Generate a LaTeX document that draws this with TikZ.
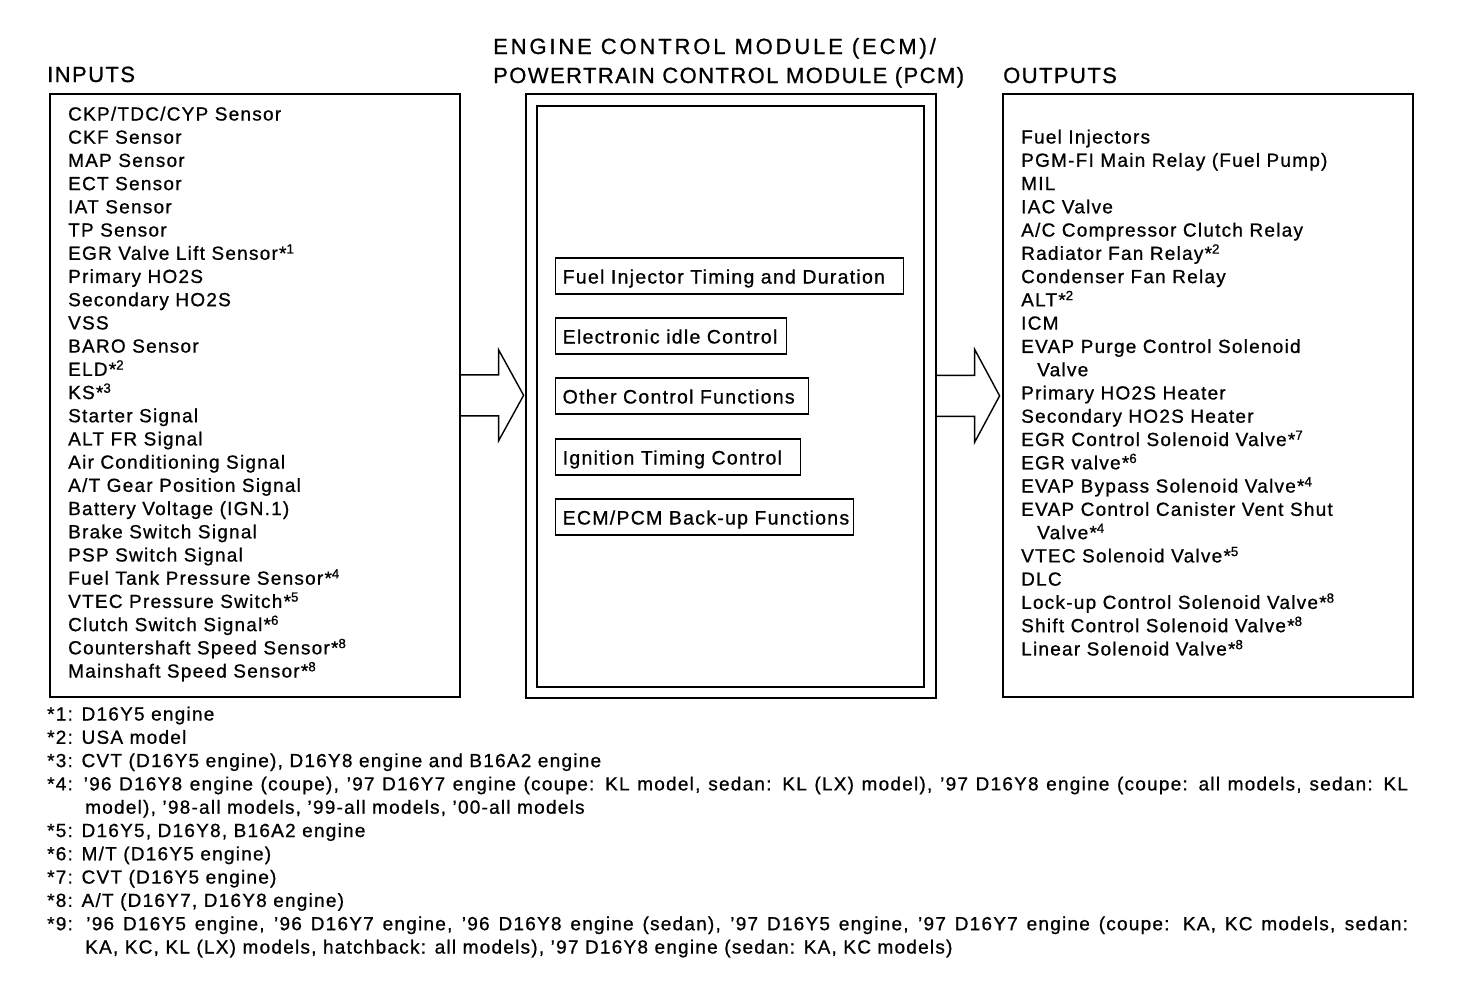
\documentclass[tikz,border=0pt]{standalone}
\usepackage{fontspec}
\setmainfont{Liberation Sans}[LetterSpace=6.5, FakeBold=0.8]
\newcommand{\starnote}[1]{*\textsuperscript{#1}}

\tikzset{
  box/.style={draw, line width=1.6pt, inner sep=0pt, anchor=north west},
  item/.style={anchor=base west, inner sep=0pt, font=\fontsize{19}{23}\selectfont},
  head/.style={anchor=base west, inner sep=0pt, font=\fontsize{22}{26}\selectfont},
  func/.style={draw, line width=1.4pt, anchor=west, align=left, inner xsep=7pt,
    text height=17pt, text depth=2pt, minimum height=36pt,
    font=\fontsize{19.5}{23}\selectfont},
  block/.style={line width=1.4pt, line join=miter}
}

\begin{document}
\begin{tikzpicture}[x=1pt,y=-1pt]
\useasboundingbox (0,0) rectangle (1472,980);

% titles
\node[head] (t-in) at (47,82) {INPUTS};
\node[head] (t-ecm) at (493,54) {\addfontfeature{LetterSpace=13}ENGINE CONTROL MODULE (ECM)/};
\node[head] (t-pcm) at (493,83) {POWERTRAIN CONTROL MODULE (PCM)};
\node[head] (t-out) at (1003,83) {OUTPUTS};

% boxes
\node[box, minimum width=410pt, minimum height=603pt] (inputs) at (49,93) {};
\node[box, minimum width=410pt, minimum height=604pt] (ecm) at (525,93) {};
\node[box, minimum width=387pt, minimum height=581pt] (ecmin) at (536,105) {};
\node[box, minimum width=410pt, minimum height=603pt] (outputs) at (1002,93) {};

% block arrows
\draw[block] (inputs.east) ++(0,-20.5) -- ++(38,0) -- ++(0,-25) -- ++(25,45.5)
  -- ++(-25,45.5) -- ++(0,-25) -- ++(-38,0);
\draw[block] (ecm.east) ++(0,-20.5) -- ++(38,0) -- ++(0,-26) -- ++(25,46.5)
  -- ++(-25,46.5) -- ++(0,-26) -- ++(-38,0);

% inputs
\foreach \txt [count=\i] in {{CKP/TDC/CYP Sensor}, CKF Sensor, MAP Sensor, ECT Sensor,
  IAT Sensor, TP Sensor, EGR Valve Lift Sensor\starnote{1}, Primary HO2S,
  Secondary HO2S, VSS, BARO Sensor, ELD\starnote{2}, KS\starnote{3},
  Starter Signal, ALT FR Signal, Air Conditioning Signal,
  {A/T Gear Position Signal}, Battery Voltage (IGN.1), Brake Switch Signal,
  PSP Switch Signal, Fuel Tank Pressure Sensor\starnote{4},
  VTEC Pressure Switch\starnote{5}, Clutch Switch Signal\starnote{6},
  Countershaft Speed Sensor\starnote{8}, Mainshaft Speed Sensor\starnote{8}}
  \node[item] (in-\i) at (68,{120.5+23.21*(\i-1)}) {\txt};

% control functions
\node[func, text width=334pt] (f-inj) at (555,276) {Fuel Injector Timing and Duration};
\node[func, text width=217pt] (f-idle) at (555,336) {Electronic idle Control};
\node[func, text width=239pt] (f-other) at (555,396) {Other Control Functions};
\node[func, text width=231pt] (f-ign) at (555,457) {Ignition Timing Control};
\node[func, text width=284pt] (f-backup) at (555,517) {ECM/PCM Back-up Functions};

% outputs
\foreach \txt [count=\i] in {Fuel Injectors, PGM-FI Main Relay (Fuel Pump), MIL,
  IAC Valve, {A/C Compressor Clutch Relay}, Radiator Fan Relay\starnote{2},
  Condenser Fan Relay, ALT\starnote{2}, ICM, EVAP Purge Control Solenoid,
  \hspace*{16pt}Valve, Primary HO2S Heater, Secondary HO2S Heater,
  EGR Control Solenoid Valve\starnote{7}, EGR valve\starnote{6},
  EVAP Bypass Solenoid Valve\starnote{4}, EVAP Control Canister Vent Shut,
  \hspace*{16pt}Valve\starnote{4}, VTEC Solenoid Valve\starnote{5}, DLC,
  Lock-up Control Solenoid Valve\starnote{8},
  Shift Control Solenoid Valve\starnote{8}, Linear Solenoid Valve\starnote{8}}
  \node[item] (out-\i) at (1021,{143.5+23.27*(\i-1)}) {\txt};

% notes
\node[item] (n-1) at (47,720.5) {*1: D16Y5 engine};
\node[item] (n-2) at (47,743.8) {*2: USA model};
\node[item] (n-3) at (47,767.1) {*3: CVT (D16Y5 engine), D16Y8 engine and B16A2 engine};
\node[item] (n-4) at (47,790.4) {\hbox to 1361pt{*4: '96 D16Y8 engine (coupe), '97 D16Y7 engine (coupe: KL model, sedan: KL (LX) model), '97 D16Y8 engine (coupe: all models, sedan: KL}};
\node[item] (n-4b) at (85,813.7) {model), '98-all models, '99-all models, '00-all models};
\node[item] (n-5) at (47,837.0) {*5: D16Y5, D16Y8, B16A2 engine};
\node[item] (n-6) at (47,860.3) {*6: M/T (D16Y5 engine)};
\node[item] (n-7) at (47,883.6) {*7: CVT (D16Y5 engine)};
\node[item] (n-8) at (47,906.9) {*8: A/T (D16Y7, D16Y8 engine)};
\node[item] (n-9) at (47,930.2) {\hbox to 1361pt{*9: '96 D16Y5 engine, '96 D16Y7 engine, '96 D16Y8 engine (sedan), '97 D16Y5 engine, '97 D16Y7 engine (coupe: KA, KC models, sedan:}};
\node[item] (n-9b) at (85,953.5) {KA, KC, KL (LX) models, hatchback: all models), '97 D16Y8 engine (sedan: KA, KC models)};
\end{tikzpicture}
\end{document}
